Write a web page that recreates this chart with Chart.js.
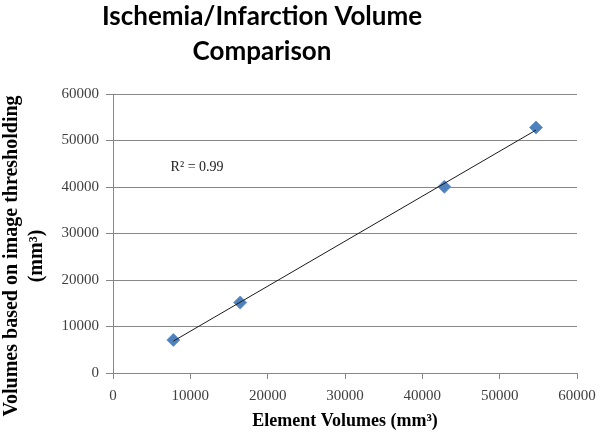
<!DOCTYPE html>
<html>
<head>
<meta charset="utf-8">
<script src="https://cdn.jsdelivr.net/npm/chart.js@4.4.0/dist/chart.umd.min.js"></script>
<style>
  html, body { margin: 0; padding: 0; background: #fff; }
  #wrap { width: 600px; height: 432px; position: relative; }
</style>
</head>
<body>
<div id="wrap"><canvas id="myScatter"></canvas></div>
<script>
// values
const elementVolumes = [7800, 16450, 42850, 54700];
const thresholdVolumes = [7100, 15150, 40050, 52800];
const xTicks = [0, 10000, 20000, 30000, 40000, 50000, 60000];
const yTicks = [0, 10000, 20000, 30000, 40000, 50000, 60000];
const rSquaredLabel = 'R² = 0.99';

// least squares trend line through the points
const n = elementVolumes.length;
const mx = elementVolumes.reduce((a, b) => a + b, 0) / n;
const my = thresholdVolumes.reduce((a, b) => a + b, 0) / n;
let sxy = 0, sxx = 0;
for (let i = 0; i < n; i++) {
    sxy += (elementVolumes[i] - mx) * (thresholdVolumes[i] - my);
    sxx += (elementVolumes[i] - mx) ** 2;
}
const slope = sxy / sxx;
const intercept = my - slope * mx;
const xMin = Math.min(...elementVolumes), xMax = Math.max(...elementVolumes);
const trend = [
    { x: xMin, y: slope * xMin + intercept },
    { x: xMax, y: slope * xMax + intercept }
];

// titles, axis titles and R² text
const textPlugin = {
    id: 'texts',
    afterDraw(chart) {
        const ctx = chart.ctx;
        const sx = chart.scales.x, sy = chart.scales.y;
        ctx.save();
        ctx.fillStyle = '#000';
        ctx.textAlign = 'center';
        ctx.textBaseline = 'middle';
        ctx.font = 'bold 26px Lato';
        ctx.fillText('Ischemia/Infarction Volume', 262, 17);
        ctx.fillText('Comparison', 262, 52);

        ctx.font = 'bold 18px "Liberation Serif"';
        ctx.fillText('Element Volumes (mm³)', (sx.left + sx.right) / 2, 421);

        ctx.translate(12, 256);
        ctx.rotate(-Math.PI / 2);
        ctx.font = 'bold 20px "Liberation Serif"';
        ctx.fillText('Volumes based on image thresholding', 0, 0);
        ctx.fillText('(mm³)', 0, 25);
        ctx.restore();

        ctx.save();
        ctx.fillStyle = '#222';
        ctx.font = '14px "Liberation Serif"';
        ctx.textAlign = 'left';
        ctx.textBaseline = 'middle';
        ctx.fillText(rSquaredLabel, sx.getPixelForValue(7450), sy.getPixelForValue(44300));
        ctx.restore();
    }
};

new Chart(document.getElementById('myScatter').getContext('2d'), {
    type: 'scatter',
    data: {
        datasets: [{
            label: 'Volumes',
            data: elementVolumes.map((v, i) => ({ x: v, y: thresholdVolumes[i] })),
            pointStyle: 'rectRot',
            pointRadius: 6.5,
            pointBackgroundColor: '#4f81bd',
            pointBorderColor: '#6a96cc',
            pointBorderWidth: 1,
            order: 2
        }, {
            type: 'line',
            label: 'Trend',
            data: trend,
            borderColor: '#1a1a1a',
            borderWidth: 1,
            pointRadius: 0,
            fill: false,
            order: 1
        }]
    },
    options: {
        responsive: true,
        maintainAspectRatio: false,
        animation: false,
        devicePixelRatio: 1,
        layout: { padding: { top: 94, right: 23, left: 0, bottom: 0 } },
        plugins: {
            legend: { display: false },
            tooltip: { enabled: false }
        },
        scales: {
            x: {
                type: 'linear',
                min: 0,
                max: 60000,
                afterBuildTicks: (scale) => { scale.ticks = xTicks.map(v => ({ value: v })); },
                afterFit: (scale) => {
                    scale.height = 59;
                    scale.paddingLeft = 0;
                    scale.paddingRight = 0;
                },
                grid: {
                    drawOnChartArea: false,
                    drawTicks: true,
                    tickLength: 6,
                    color: '#878787'
                },
                border: { display: true, color: '#878787' },
                ticks: {
                    font: { family: 'Liberation Serif', size: 15 },
                    color: '#404040',
                    padding: 8,
                    maxRotation: 0,
                    callback: (v) => String(v)
                }
            },
            y: {
                type: 'linear',
                min: 0,
                max: 60000,
                afterBuildTicks: (scale) => { scale.ticks = yTicks.map(v => ({ value: v })); },
                afterFit: (scale) => {
                    scale.width = 113;
                    scale.paddingTop = 0;
                    scale.paddingBottom = 0;
                },
                grid: {
                    color: '#878787',
                    tickLength: 7
                },
                border: { display: true, color: '#878787' },
                ticks: {
                    font: { family: 'Liberation Serif', size: 15 },
                    color: '#404040',
                    padding: 7,
                    callback: (v) => String(v)
                }
            }
        }
    },
    plugins: [textPlugin]
});
</script>
</body>
</html>
